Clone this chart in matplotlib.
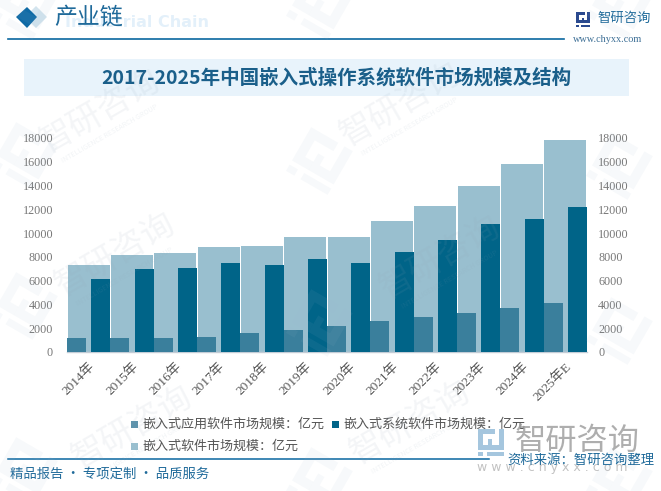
import matplotlib
matplotlib.use('Agg')
import matplotlib.pyplot as plt
from matplotlib.patches import Polygon, Rectangle
from matplotlib.transforms import Affine2D
import numpy as np

plt.rcParams['font.family'] = ['Noto Sans CJK SC', 'DejaVu Sans']

years = ['2014年', '2015年', '2016年', '2017年', '2018年', '2019年',
         '2020年', '2021年', '2022年', '2023年', '2024年', '2025年E']
app_software = [1200, 1200, 1200, 1280, 1600, 1850, 2200, 2600, 2950, 3300, 3700, 4150]
system_software = [6100, 7000, 7100, 7500, 7350, 7850, 7500, 8450, 9400, 10800, 11200, 12200]
total_software = [7350, 8200, 8300, 8800, 8950, 9700, 9700, 11050, 12300, 14000, 15800, 17800]
y_ticks = [0, 2000, 4000, 6000, 8000, 10000, 12000, 14000, 16000, 18000]

W, H = 661, 491
SERIF = ['Liberation Serif', 'Noto Sans CJK SC']

fig = plt.figure(figsize=(W / 100, H / 100), dpi=100)

# overlay in pixel coordinates for the page furniture
page = fig.add_axes([0, 0, 1, 1], zorder=0)
page.set_xlim(0, W)
page.set_ylim(H, 0)
page.axis('off')
top = fig.add_axes([0, 0, 1, 1], zorder=5)
top.set_xlim(0, W)
top.set_ylim(H, 0)
top.axis('off')
top.patch.set_alpha(0)


def logo(axis, x, y, size, color, alpha, angle=30):
    # bracket logo, drawn from two thick L shapes
    tr = Affine2D().scale(size / 10).rotate_deg(angle).translate(x, y) + axis.transData
    shapes = [
        [(-10, -10), (3, -10), (3, -6), (-6, -6), (-6, 2), (-2, 2), (-2, 6), (-10, 6)],
        [(-2, -2), (1, -2), (1, 2), (6, 2), (6, -10), (10, -10), (10, 6), (-2, 6)],
        [(-10, 8), (-6, 8), (-6, 11), (-10, 11)],
        [(-3, 8), (10, 8), (10, 11), (-3, 11)],
    ]
    for pts in shapes:
        axis.add_patch(Polygon(pts, closed=True, fc=color, ec='none', alpha=alpha, transform=tr))


def watermark(axis, x, y):
    axis.text(x, y, '智研咨询', fontsize=24, color='#8fa3b5', alpha=0.1, rotation=30,
              ha='center', va='center', rotation_mode='anchor')
    axis.text(x + 10, y + 22, 'INTELLIGENCE RESEARCH GROUP', fontsize=5, color='#8fa3b5', alpha=0.12,
              rotation=30, ha='center', va='center', rotation_mode='anchor')


for lx, ly in [(25, 5), (320, 5), (620, 5), (25, 155), (320, 160), (620, 165),
               (25, 305), (320, 322), (620, 330), (25, 470), (320, 480), (620, 480)]:
    logo(top, lx, ly, 24, '#9fb8cf', 0.08)
for tx, ty in [(100, 112), (400, 105), (115, 255), (440, 258), (132, 428), (410, 423)]:
    watermark(top, tx, ty)

# header
page.add_patch(Polygon([(36, 6), (47, 17), (36, 28), (25, 17)], fc='#d3e4ee', ec='none'))
page.add_patch(Polygon([(27, 7), (37, 17), (27, 28), (16, 17)], fc='#0f6aa5', ec='none'))
page.text(65, 22, 'Industrial Chain', fontsize=11.5, fontweight='bold', color='#e3f0fa',
          family='DejaVu Sans', va='center')
page.text(54, 17, '产业链', fontsize=16.5, fontweight='medium', color='#1f6a9a', va='center')
page.plot([8, 564], [38.5, 38.5], color='#0a67a0', lw=1.2)
logo(page, 583, 19, 7, '#2b4a8f', 1, angle=0)
page.text(598, 18, '智研咨询', fontsize=9.6, color='#1f6a9a', va='center')
page.text(573, 39, 'www.chyxx.com', fontsize=7.4, color='#3d6f96', va='center', family=SERIF)

# title band
page.add_patch(Rectangle((24, 59), 605, 37, fc='#e8f3fb', ec='none'))
page.text(101, 78, '2017-2025年中国嵌入式操作系统软件市场规模及结构', fontsize=14.05, fontweight='bold',
          color='#1a5f8a', va='center', ha='left')

# chart
left, right, bottom, upper = 67, 587, 352, 138
ax = fig.add_axes([left / W, 1 - bottom / H, (right - left) / W, (bottom - upper) / H], zorder=2)
ax.patch.set_alpha(0)
x = np.arange(len(years))
ax.bar(x, total_software, width=0.97, color='#99bfcf', zorder=2)
ax.bar(x - 0.28, app_software, width=0.44, color='#3a7f9c', zorder=3)
ax.bar(x + 0.28, system_software, width=0.44, color='#006488', zorder=3)
ax.set_xlim(-0.5, 11.5)
ax.set_ylim(0, 18000)
ax.set_yticks(y_ticks)
ax.set_xticks(x)
ax.set_xticklabels(years, rotation=45, ha='right', va='top', rotation_mode='anchor',
                   fontsize=9.6, color='#555555', family=SERIF)
ax.tick_params(axis='x', length=0, pad=6)
ax.tick_params(axis='y', length=0, pad=10, labelsize=8.7, labelcolor='#777777')
for label in ax.get_yticklabels():
    label.set_family(SERIF)
for side in ['top', 'left', 'right']:
    ax.spines[side].set_visible(False)
ax.spines['bottom'].set_color('#c3ccd6')
ax.spines['bottom'].set_linewidth(1)

ax_right = ax.twinx()
ax_right.set_ylim(0, 18000)
ax_right.set_yticks(y_ticks)
ax_right.tick_params(axis='y', length=0, pad=8, labelsize=8.7, labelcolor='#777777')
for label in ax_right.get_yticklabels():
    label.set_family(SERIF)
for side in ['top', 'left', 'right', 'bottom']:
    ax_right.spines[side].set_visible(False)

# legend placed by hand, it wraps in two rows in the original
legend_rows = [(131, 424, '#5e93ac', '嵌入式应用软件市场规模：亿元'),
               (332, 424, '#006488', '嵌入式系统软件市场规模：亿元'),
               (131, 446, '#99bfcf', '嵌入式软件市场规模：亿元')]
for lx, ly, color, label in legend_rows:
    page.add_patch(Rectangle((lx, ly - 3.5), 7, 7, fc=color, ec='none'))
    page.text(lx + 11, ly, label, fontsize=9.4, color='#555555', va='center')

# footer
logo(page, 491, 442, 13, '#8fb8d6', 0.8, angle=0)
page.text(515, 441, '智研咨询', fontsize=22.5, color='#9a9a9a', alpha=0.8, va='center')
page.text(477, 467, 'w w w . c h y x x . c o m', fontsize=9, color='#a8a8a8', alpha=0.7,
          va='center', family='DejaVu Sans')
page.plot([8, 489], [459, 459], color='#0a67a0', lw=1.1)
top.text(507, 460, '资料来源：智研咨询整理', fontsize=9.6, color='#1f6a9a', va='center')
page.text(10, 474, '精品报告 · 专项定制 · 品质服务', fontsize=9.6, color='#1f6a9a', va='center')

fig.savefig('out.png', dpi=100)
